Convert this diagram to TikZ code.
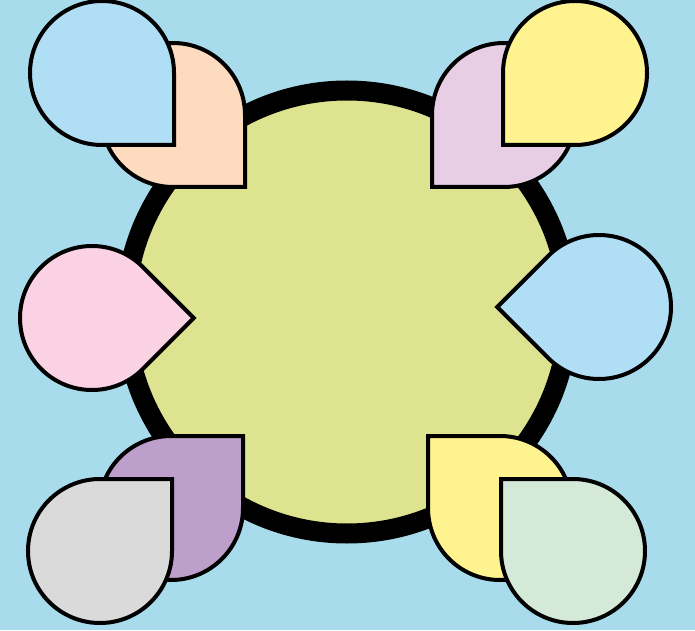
\documentclass[tikz,border=0pt]{standalone}
\usepackage{tikz}
\definecolor{bgblue}{RGB}{168,220,236}
\definecolor{hubgreen}{RGB}{222,227,143}
\definecolor{dropblue}{RGB}{176,223,245}
\definecolor{droppeach}{RGB}{253,219,191}
\definecolor{dropthistle}{RGB}{231,206,229}
\definecolor{dropyellow}{RGB}{255,243,143}
\definecolor{droppink}{RGB}{250,210,228}
\definecolor{droppurple}{RGB}{190,158,203}
\definecolor{dropgray}{RGB}{218,218,218}
\definecolor{dropmint}{RGB}{212,233,216}
\tikzset{
  hub/.style={draw=black,line width=20pt,fill=hubgreen},
  dropline/.style={draw=black,line width=4pt,line join=miter},
  % circle of radius 72 with its lower right quarter squared off
  drop/.pic={\draw[dropline,fill=#1] (72,-72) -- (72,0)
    arc[start angle=0,end angle=270,radius=72] -- cycle;},
}
\begin{document}
\begin{tikzpicture}[x=1pt,y=1pt]
  \fill[bgblue] (0,0) rectangle (695,630);
  \useasboundingbox (0,0) rectangle (695,630);
  \draw[hub] (347,318) circle[radius=221.5];
  % top left
  \pic (tlb) at (173,515) {drop=droppeach};
  \pic (tlf) at (102,557) {drop=dropblue};
  % top right
  \pic[rotate=-90] (trb) at (504,515) {drop=dropthistle};
  \pic[rotate=-90] (trf) at (575,557) {drop=dropyellow};
  % sides
  \pic[rotate=45] (ml) at (92,312) {drop=droppink};
  \pic[rotate=225] (mr) at (599,323) {drop=dropblue};
  % bottom left
  \pic[rotate=90] (blb) at (171,122) {drop=droppurple};
  \pic[rotate=90] (blf) at (100,79) {drop=dropgray};
  % bottom right
  \pic[rotate=180] (brb) at (500,122) {drop=dropyellow};
  \pic[rotate=180] (brf) at (573,79) {drop=dropmint};
\end{tikzpicture}
\end{document}
